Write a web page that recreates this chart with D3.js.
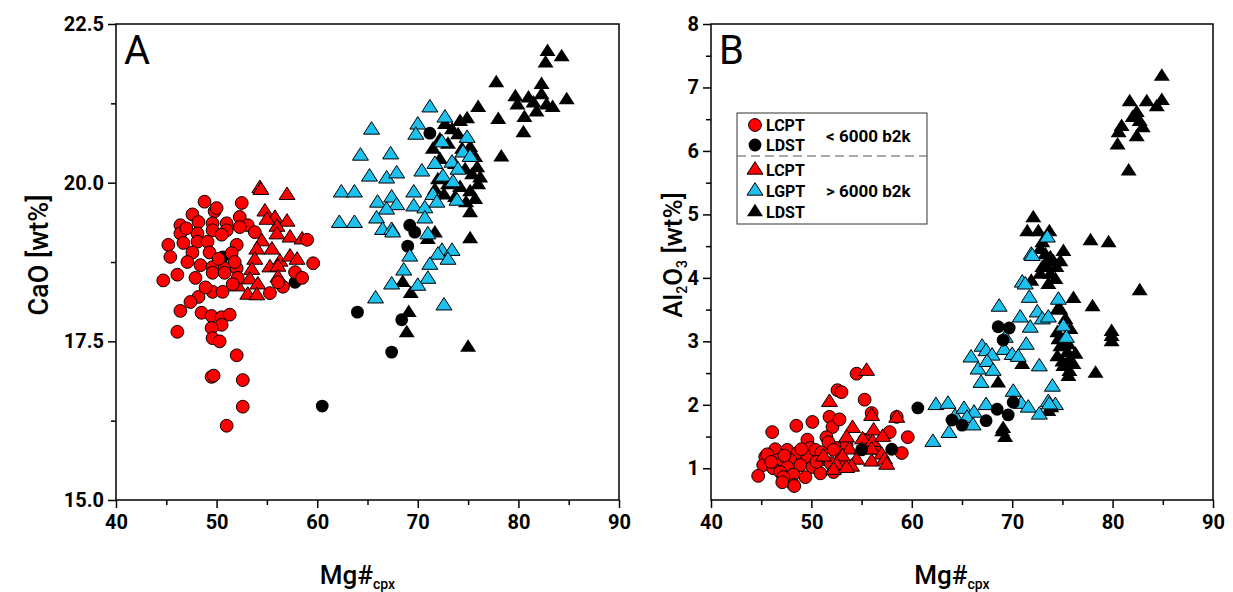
<!DOCTYPE html>
<html>
<head>
<meta charset="utf-8">
<script src="https://cdn.jsdelivr.net/npm/d3@7"></script>
<style>
body { margin: 0; background: #fff; }
text { font-family: Roboto, "DejaVu Sans", sans-serif; }
</style>
</head>
<body>
<div id="chart"></div>
<script>
// ---- panel A: Mg# vs CaO ----
var caoLcptOld = [
  [48.8,19.70],[49.8,19.55],[52.5,19.68],[47.6,19.50],[46.4,19.33],[48.2,19.38],[49.6,19.36],[51.0,19.36],
  [52.3,19.46],[53.1,19.33],[46.4,19.20],[48.1,19.20],[49.6,19.25],[51.0,19.25],[52.3,19.30],[45.2,19.02],
  [46.7,19.05],[48.1,19.07],[49.1,19.07],[50.5,19.18],[52.0,19.02],[45.4,18.83],[47.6,18.90],[49.3,18.90],
  [51.5,18.89],[47.1,18.75],[48.4,18.70],[49.6,18.67],[50.8,18.65],[52.0,18.65],[44.7,18.46],[46.1,18.55],
  [47.9,18.50],[49.6,18.58],[50.8,18.58],[52.1,18.50],[49.6,18.28],[50.6,18.28],[48.2,18.20],[47.4,18.12],
  [46.4,17.98],[48.5,17.95],[49.5,17.90],[50.5,17.88],[51.3,17.92],[50.5,17.76],[49.5,17.71],[46.1,17.65],
  [49.6,17.55],[50.3,17.50],[52.0,17.28],[49.5,16.94],[49.7,16.96],[52.6,16.89],[52.6,16.47],[51.0,16.17],
  [55.3,18.26],[56.6,18.36],[57.8,18.59],[58.5,18.50],[59.0,19.10],[59.6,18.73],[56.1,18.43],[50.0,19.60],
  [47.0,19.28],[53.8,19.22],[50.2,18.80],[51.8,18.75],[48.9,18.35],[51.6,18.40]
];
var caoLdstOld = [
  [71.2,20.78],[69.2,19.33],[69.7,19.22],[69.0,19.00],[64.0,17.96],[68.4,17.84],[67.4,17.33],[60.5,16.48],
  [50.6,18.83],[57.8,18.43]
];
var caoLcptYoung = [
  [54.3,19.91],[57.0,19.80],[54.8,19.54],[55.8,19.44],[57.0,19.38],[56.0,19.30],[55.0,19.41],[56.0,19.18],
  [57.3,19.13],[58.5,19.10],[54.5,19.07],[54.0,18.94],[55.5,18.94],[53.8,18.78],[56.3,18.75],[57.3,18.83],
  [58.0,18.78],[53.5,18.62],[55.3,18.66],[56.1,18.67],[53.3,18.47],[56.1,18.50],[54.1,18.39],[52.1,18.36],
  [53.1,18.23],[54.0,18.22],[54.4,19.88]
];
var caoLgptYoung = [
  [71.2,21.18],[72.7,21.02],[65.4,20.83],[70.0,20.91],[69.8,20.75],[72.4,20.63],[74.9,20.70],[64.3,20.42],
  [67.3,20.44],[74.5,20.47],[75.2,20.40],[71.7,20.29],[73.4,20.31],[70.4,20.17],[74.0,20.20],[65.2,20.09],
  [66.9,20.06],[67.9,20.14],[72.5,20.09],[73.5,20.00],[62.4,19.84],[63.7,19.84],[69.6,19.84],[71.5,19.80],
  [66.0,19.68],[67.4,19.76],[67.9,19.64],[66.9,19.57],[69.6,19.62],[70.7,19.59],[71.9,19.68],[73.9,19.71],
  [62.2,19.36],[63.7,19.36],[65.9,19.43],[70.7,19.43],[66.5,19.25],[67.4,19.25],[67.5,19.21],[71.0,19.18],
  [72.4,18.92],[73.4,18.92],[69.2,18.83],[72.0,18.86],[73.0,18.78],[71.2,18.70],[68.6,18.61],[71.0,18.48],
  [67.4,18.39],[70.0,18.37],[65.8,18.17],[72.6,18.06]
];
var caoLdstYoung = [
  [68.5,18.42],[69.3,18.25],[69.1,17.95],[68.9,17.63],[75.0,17.40],
  [82.9,22.06],[84.3,21.98],[82.7,21.88],[77.8,21.57],[82.3,21.54],[79.7,21.35],[81.0,21.33],[82.3,21.38],
  [79.9,21.22],[81.5,21.25],[82.8,21.22],[84.8,21.30],[83.4,21.18],[81.8,21.11],[80.6,21.02],[76.0,21.18],
  [78.0,20.99],[80.5,20.78],[78.3,20.40],[74.2,20.96],[74.9,21.00],[75.2,19.52],[75.2,19.11],[71.0,19.10],
  [71.7,19.20],[72.7,20.91],[73.4,20.83],[74.0,20.75],[73.0,20.60],[74.4,20.52],[75.2,20.55],[75.7,20.39],
  [72.2,20.36],[73.7,20.28],[74.7,20.20],[75.4,20.12],[72.0,20.04],[73.0,19.96],[74.2,19.92],[75.2,19.85],
  [72.6,19.80],[73.7,19.76],[74.8,19.68],[75.7,19.73],[71.7,19.88],[76.0,19.96],[75.9,20.23],[72.2,20.67],
  [71.5,20.52],[76.2,20.07]
];

// ---- panel B: Mg# vs Al2O3 ----
var alLcptOld = [
  [54.5,2.49],[52.6,2.23],[53.0,2.20],[55.3,2.08],[56.0,1.87],[58.5,1.81],[51.8,1.81],[52.1,1.65],
  [50.1,1.73],[48.5,1.67],[46.1,1.57],[57.8,1.57],[59.6,1.49],[49.6,1.45],[51.5,1.49],[46.4,1.30],
  [47.6,1.29],[48.6,1.24],[49.9,1.32],[52.5,1.32],[59.0,1.24],[45.4,1.18],[46.6,1.13],[47.9,1.13],
  [49.6,1.18],[50.9,1.13],[51.9,1.08],[45.2,1.05],[46.2,1.00],[47.6,1.02],[48.9,1.05],[50.1,1.02],
  [46.9,0.94],[48.2,0.90],[44.7,0.88],[47.2,0.86],[48.2,0.74],[49.4,0.86],[50.4,1.29],[51.7,1.41],
  [52.2,1.29],[53.5,1.37],[50.9,0.92],[52.2,0.94],[55.3,1.45],[56.3,1.32],[47.1,0.78],[48.3,0.72],
  [45.6,1.22],[46.0,1.10],[47.3,1.20],[49.0,1.30],[51.0,1.25],[50.5,1.10],[53.0,1.15],[52.8,1.77]
];
var alLdstOld = [
  [55.0,1.29],[58.0,1.30],[60.6,1.95],[68.6,3.23],[69.7,3.21],[69.1,3.02],[68.5,1.93],[69.6,1.84],
  [67.4,1.75],[64.0,1.76],[65.0,1.68],[70.1,2.04]
];
var alLcptYoung = [
  [55.5,2.53],[51.8,2.04],[56.0,1.82],[58.5,1.79],[54.1,1.63],[56.2,1.59],[53.5,1.48],[55.1,1.45],
  [56.1,1.41],[57.1,1.49],[53.8,1.29],[55.0,1.29],[56.0,1.29],[57.0,1.21],[53.1,1.18],[54.5,1.13],
  [56.0,1.10],[57.3,1.13],[52.5,1.05],[54.0,1.02],[52.2,0.97],[53.5,1.00],[57.5,1.05],[51.2,1.18]
];
var alLgptYoung = [
  [62.1,1.41],[63.7,1.55],[62.4,1.99],[63.6,2.01],[64.3,1.81],[65.2,1.93],[66.2,1.87],[65.5,1.79],
  [66.1,1.67],[67.4,1.99],[70.1,2.20],[70.9,2.01],[71.6,1.95],[72.7,1.84],[73.6,2.04],[74.3,1.99],
  [74.0,2.28],[68.7,3.54],[65.9,2.74],[67.0,2.91],[67.4,2.84],[68.0,2.77],[66.6,2.55],[67.5,2.67],
  [68.1,2.53],[66.9,2.34],[69.3,3.05],[69.2,2.86],[70.0,2.78],[70.6,2.75],[71.4,2.94],[70.8,3.37],
  [71.8,3.21],[72.5,3.45],[73.0,3.34],[73.6,3.37],[74.6,3.65],[75.1,3.23],[75.4,3.05],[71.7,3.68],
  [71.0,3.92],[71.3,3.89],[72.7,2.60],[71.9,4.36],[73.5,4.63],[72.0,4.34],[73.7,2.00]
];
var alLdstYoung = [
  [84.9,7.17],[81.7,6.77],[83.4,6.77],[84.9,6.79],[84.4,6.69],[82.4,6.60],[82.0,6.52],[82.7,6.46],
  [80.9,6.38],[83.0,6.36],[80.6,6.28],[82.4,6.22],[80.5,6.09],[81.6,5.68],[82.7,3.79],[76.1,3.67],
  [78.0,3.54],[79.9,3.15],[79.9,3.07],[79.9,2.99],[78.3,2.49],[71.0,2.63],[68.6,2.34],[69.0,1.57],
  [69.3,1.48],[72.1,4.94],[71.5,4.72],[72.6,4.72],[73.7,4.72],[75.1,4.41],[77.8,4.58],[79.6,4.55],
  [73.0,4.55],[73.3,4.36],[74.1,4.25],[73.0,4.16],[73.8,4.05],[74.4,4.16],[71.9,3.94],[74.5,3.49],
  [74.5,3.13],[74.8,2.91],[75.5,2.82],[74.5,2.75],[75.7,2.71],[75.1,2.60],[76.1,2.63],[75.6,2.44],
  [73.6,1.89],[72.8,4.44],[73.8,4.31],[73.3,4.20],[74.3,3.97],[73.6,3.89],[72.8,4.05],[74.8,4.25],
  [74.8,3.49],[75.3,3.34],[75.8,3.18],[74.6,3.02],[75.6,2.94],[76.3,2.79],[75.0,2.67],[75.7,2.52],
  [69.1,1.62],[73.9,1.95]
];

var xTicks = [40, 50, 60, 70, 80, 90];
var caoTicks = [15.0, 17.5, 20.0, 22.5];
var alTicks = [1, 2, 3, 4, 5, 6, 7, 8];

var legendRows = [
  { shape: "circle", fill: "#ff0000", label: "LCPT" },
  { shape: "circle", fill: "#000000", label: "LDST" },
  { shape: "triangle", fill: "#ff0000", label: "LCPT" },
  { shape: "triangle", fill: "#1ec0ee", label: "LGPT" },
  { shape: "triangle", fill: "#000000", label: "LDST" }
];

var red = "#ff0000", blue = "#1ec0ee", black = "#000000";

var svg = d3.select("#chart").append("svg")
    .attr("width", 1233)
    .attr("height", 592);

function markerPath(shape) {
    if (shape == "circle") {
        return d3.symbol().type(d3.symbolCircle).size(Math.PI * 6.4 * 6.4)();
    }
    // slightly flattened triangle, like the original
    var w = 16, h = 12.5;
    return "M0," + (-h * 2 / 3) + "L" + (w / 2) + "," + (h / 3) + "L" + (-w / 2) + "," + (h / 3) + "Z";
}

function drawPanel(opt) {
    var g = svg.append("g");
    var xScale = d3.scaleLinear().domain([40, 90]).range([opt.left, opt.right]);
    var yScale = d3.scaleLinear().domain(opt.yDomain).range([opt.bottom, opt.top]);

    // minor ticks
    var xMinor = d3.range(45, 90, 10);
    g.append("g")
        .attr("transform", "translate(0," + opt.bottom + ")")
        .call(d3.axisBottom(xScale).tickValues(xMinor).tickSize(5).tickFormat(""))
        .call(function(a) { a.select(".domain").remove(); });
    g.append("g")
        .attr("transform", "translate(" + opt.left + ",0)")
        .call(d3.axisLeft(yScale).tickValues(opt.yMinor).tickSize(5).tickFormat(""))
        .call(function(a) { a.select(".domain").remove(); });

    // major ticks + labels
    var xAxis = g.append("g")
        .attr("transform", "translate(0," + opt.bottom + ")")
        .call(d3.axisBottom(xScale).tickValues(xTicks).tickSize(8).tickPadding(7).tickFormat(d3.format("d")));
    var yAxis = g.append("g")
        .attr("transform", "translate(" + opt.left + ",0)")
        .call(d3.axisLeft(yScale).tickValues(opt.yTicks).tickSize(8).tickPadding(4).tickFormat(opt.yFormat));
    [xAxis, yAxis].forEach(function(a) {
        a.select(".domain").remove();
        a.selectAll("text")
            .style("font-size", "20px")
            .style("font-weight", "bold")
            .attr("fill", "#000");
    });
    g.selectAll(".tick line").attr("stroke", "#000").attr("stroke-width", 1.5);

    // series
    opt.series.forEach(function(s) {
        g.append("g").selectAll("path")
            .data(s.data)
            .enter()
            .append("path")
                .attr("d", markerPath(s.shape))
                .attr("transform", function(d) {
                    return "translate(" + xScale(d[0]) + "," + yScale(d[1]) + ")";
                })
                .attr("fill", s.fill)
                .attr("stroke", "#000")
                .attr("stroke-width", s.fill == black ? 0 : 1);
    });

    // frame
    g.append("rect")
        .attr("x", opt.left)
        .attr("y", opt.top)
        .attr("width", opt.right - opt.left)
        .attr("height", opt.bottom - opt.top)
        .attr("fill", "none")
        .attr("stroke", "#000")
        .attr("stroke-width", 1.5);

    // panel letter
    g.append("text")
        .attr("x", opt.left + 8)
        .attr("y", opt.top + 40)
        .style("font-size", "40px")
        .text(opt.letter);

    // x title
    var xt = g.append("text")
        .attr("x", (opt.left + opt.right) / 2 - 10)
        .attr("y", 584)
        .attr("text-anchor", "middle")
        .style("font-size", "26px")
        .style("font-weight", "500");
    xt.append("tspan").text("Mg#");
    xt.append("tspan").attr("dy", 5).style("font-size", "14px").text("cpx");

    return { x: xScale, y: yScale, g: g };
}

var panelA = drawPanel({
    left: 116, right: 619, top: 24, bottom: 500,
    yDomain: [15, 22.5],
    yTicks: caoTicks,
    yMinor: [16.25, 18.75, 21.25],
    yFormat: d3.format(".1f"),
    letter: "A",
    series: [
        { data: caoLdstOld, shape: "circle", fill: black },
        { data: caoLdstYoung, shape: "triangle", fill: black },
        { data: caoLgptYoung, shape: "triangle", fill: blue },
        { data: caoLcptYoung, shape: "triangle", fill: red },
        { data: caoLcptOld, shape: "circle", fill: red }
    ]
});

var panelB = drawPanel({
    left: 711, right: 1213, top: 24, bottom: 500,
    yDomain: [0.5, 8],
    yTicks: alTicks,
    yMinor: [1.5, 2.5, 3.5, 4.5, 5.5, 6.5, 7.5],
    yFormat: d3.format("d"),
    letter: "B",
    series: [
        { data: alLdstYoung, shape: "triangle", fill: black },
        { data: alLgptYoung, shape: "triangle", fill: blue },
        { data: alLcptOld, shape: "circle", fill: red },
        { data: alLcptYoung, shape: "triangle", fill: red },
        { data: alLdstOld, shape: "circle", fill: black }
    ]
});

// y titles
svg.append("text")
    .attr("transform", "translate(48,255) rotate(-90)")
    .attr("text-anchor", "middle")
    .style("font-size", "27px")
    .style("font-weight", "500")
    .text("CaO [wt%]");

var yt = svg.append("text")
    .attr("transform", "translate(682,255) rotate(-90)")
    .attr("text-anchor", "middle")
    .style("font-size", "26px")
    .style("font-weight", "500");
yt.append("tspan").text("Al");
yt.append("tspan").attr("dy", 5).style("font-size", "14px").text("2");
yt.append("tspan").attr("dy", -5).text("O");
yt.append("tspan").attr("dy", 5).style("font-size", "14px").text("3");
yt.append("tspan").attr("dy", -5).text(" [wt%]");

// legend
var legend = svg.append("g").attr("transform", "translate(737,113)");
legend.append("rect")
    .attr("width", 190)
    .attr("height", 111)
    .attr("fill", "#fff")
    .attr("stroke", "#333")
    .attr("stroke-width", 1);
legend.append("line")
    .attr("x1", 0).attr("x2", 190)
    .attr("y1", 43).attr("y2", 43)
    .attr("stroke", "#555")
    .attr("stroke-dasharray", "9,5");
var rowY = [12, 32, 57, 78, 99];
legend.selectAll("g.row")
    .data(legendRows)
    .enter()
    .append("g")
        .attr("class", "row")
        .attr("transform", function(d, i) { return "translate(18," + rowY[i] + ")"; })
        .each(function(d) {
            var r = d3.select(this);
            r.append("path")
                .attr("d", markerPath(d.shape))
                .attr("fill", d.fill)
                .attr("stroke", "#000")
                .attr("stroke-width", d.fill == black ? 0 : 1);
            r.append("text")
                .attr("x", 11)
                .attr("y", 6)
                .style("font-size", "16px")
                .style("font-weight", "bold")
                .text(d.label);
        });
legend.append("text")
    .attr("x", 89).attr("y", 29)
    .style("font-size", "17px")
    .style("font-weight", "bold")
    .text("< 6000 b2k");
legend.append("text")
    .attr("x", 89).attr("y", 84)
    .style("font-size", "17px")
    .style("font-weight", "bold")
    .text("> 6000 b2k");
</script>
</body>
</html>
